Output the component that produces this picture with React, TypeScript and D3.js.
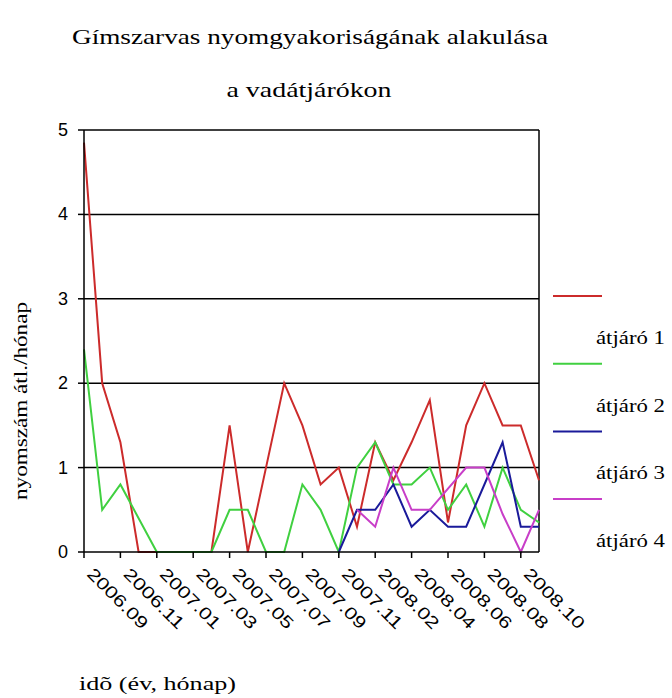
import React from "react";
import * as d3 from "d3";

// Monthly survey periods (one point per period); every second one is labelled on the axis.
const categories = [
  "2006.09", "2006.10", "2006.11", "2006.12", "2007.01", "2007.02", "2007.03",
  "2007.04", "2007.05", "2007.06", "2007.07", "2007.08", "2007.09", "2007.10",
  "2007.11", "2007.12", "2008.02", "2008.03", "2008.04", "2008.05", "2008.06",
  "2008.07", "2008.08", "2008.09", "2008.10", "2008.11",
];

// Average track counts per month at each game crossing (null = not yet surveyed).
const atjaro1: (number | null)[] = [
  4.85, 2.0, 1.3, 0, 0, 0, 0, 0, 1.5, 0, 1.0, 2.0, 1.5, 0.8, 1.0, 0.3, 1.3,
  0.85, 1.3, 1.8, 0.35, 1.5, 2.0, 1.5, 1.5, 0.85,
];
const atjaro2: (number | null)[] = [
  2.4, 0.5, 0.8, 0.4, 0, 0, 0, 0, 0.5, 0.5, 0, 0, 0.8, 0.5, 0, 1.0, 1.3, 0.8,
  0.8, 1.0, 0.5, 0.8, 0.3, 1.0, 0.5, 0.35,
];
const atjaro3: (number | null)[] = [
  null, null, null, null, null, null, null, null, null, null, null, null, null,
  null, 0, 0.5, 0.5, 0.8, 0.3, 0.5, 0.3, 0.3, 0.8, 1.3, 0.3, 0.3,
];
const atjaro4: (number | null)[] = [
  null, null, null, null, null, null, null, null, null, null, null, null, null,
  null, null, 0.5, 0.3, 1.0, 0.5, 0.5, 0.75, 1.0, 1.0, 0.45, 0, 0.5,
];

const seriesNames = ["átjáró 1", "átjáró 2", "átjáró 3", "átjáró 4"];
const seriesColors = ["#cc2b2b", "#40d040", "#1a1a9a", "#c83ec8"];
const yTicks = [0, 1, 2, 3, 4, 5];
const labelEvery = 2;

const titleLines = ["Gímszarvas nyomgyakoriságának alakulása", "a vadátjárókon"];
const yTitle = "nyomszám átl./hónap";
const xTitle = "idõ (év, hónap)";

const serif = "'Liberation Serif', 'Times New Roman', serif";
const sans = "'Liberation Sans', Arial, sans-serif";

export default function App() {
  const left = 84;
  const right = 539;
  const top = 130;
  const bottom = 552;

  const x = d3.scalePoint<string>().domain(categories).range([left, right]);
  const y = d3.scaleLinear().domain([0, 5]).range([bottom, top]);

  const series = [atjaro1, atjaro2, atjaro3, atjaro4];
  const line = d3
    .line<number | null>()
    .defined((d) => d != null)
    .x((_, i) => x(categories[i]) as number)
    .y((d) => y(d as number));

  const tickCats = categories.filter((_, i) => i % labelEvery === 0);

  return (
    <svg
      width={672}
      height={698}
      style={{ position: "absolute", left: 0, top: 0, background: "#fff" }}
    >
      <rect x={0} y={0} width={672} height={698} fill="#fff" />

      {/* title */}
      <text x={310} y={44} textAnchor="middle" fontFamily={serif} fontSize={22}
        textLength={476} lengthAdjust="spacingAndGlyphs" fill="#000">
        {titleLines[0]}
      </text>
      <text x={309} y={97} textAnchor="middle" fontFamily={serif} fontSize={22}
        textLength={165} lengthAdjust="spacingAndGlyphs" fill="#000">
        {titleLines[1]}
      </text>

      {/* horizontal gridlines */}
      {yTicks.filter((t) => t > 0).map((t) => (
        <line key={"g" + t} x1={left} x2={right} y1={y(t)} y2={y(t)}
          stroke="#000" strokeWidth={1.5} />
      ))}
      <line x1={right} x2={right} y1={top} y2={bottom} stroke="#000" strokeWidth={1.5} />

      {/* series */}
      {series.map((s, k) => (
        <path key={"s" + k} d={line(s) || ""} fill="none" stroke={seriesColors[k]}
          strokeWidth={2} strokeLinejoin="miter" />
      ))}

      {/* axes */}
      <line x1={left} x2={left} y1={top} y2={bottom} stroke="#000" strokeWidth={1.5} />
      <line x1={left} x2={right} y1={bottom} y2={bottom} stroke="#000" strokeWidth={1.5} />
      {yTicks.map((t) => (
        <g key={"yt" + t}>
          <line x1={left - 6} x2={left} y1={y(t)} y2={y(t)} stroke="#000" strokeWidth={1.5} />
          <text x={68} y={y(t) + 6} textAnchor="end" fontFamily={sans} fontSize={18} fill="#000">
            {t}
          </text>
        </g>
      ))}
      {tickCats.map((c) => {
        const px = x(c) as number;
        return (
          <g key={"xt" + c}>
            <line x1={px} x2={px} y1={bottom} y2={bottom + 6} stroke="#000" strokeWidth={1.5} />
            <text transform={`translate(${px + 2},${575}) rotate(45)`} fontFamily={sans}
              fontSize={17} textLength={78} lengthAdjust="spacingAndGlyphs" fill="#000">
              {c}
            </text>
          </g>
        );
      })}

      {/* axis titles */}
      <text transform="translate(27,401) rotate(-90)" textAnchor="middle" fontFamily={serif}
        fontSize={18} textLength={198} lengthAdjust="spacingAndGlyphs" fill="#000">
        {yTitle}
      </text>
      <text x={79} y={690} fontFamily={serif} fontSize={18} textLength={157}
        lengthAdjust="spacingAndGlyphs" fill="#000">
        {xTitle}
      </text>

      {/* legend */}
      {seriesNames.map((n, k) => {
        const ly = 296 + k * 67.7;
        return (
          <g key={"l" + k}>
            <line x1={553} x2={602} y1={ly} y2={ly} stroke={seriesColors[k]} strokeWidth={2} />
            <text x={596} y={ly + 48} fontFamily={serif} fontSize={18} textLength={69}
              lengthAdjust="spacingAndGlyphs" fill="#000">
              {n}
            </text>
          </g>
        );
      })}
    </svg>
  );
}
